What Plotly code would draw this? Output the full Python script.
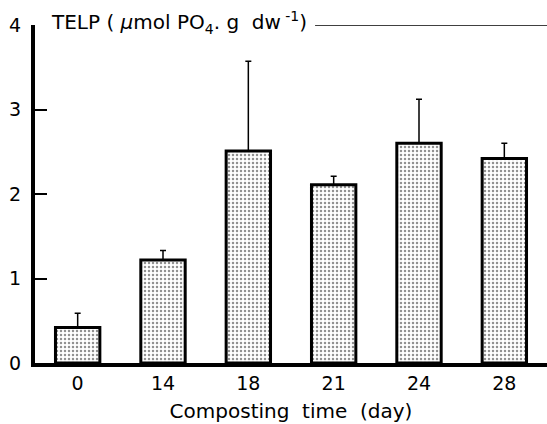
import plotly.graph_objects as go

days = ["0", "14", "18", "21", "24", "28"]
telp = [0.42, 1.22, 2.51, 2.11, 2.60, 2.42]
telp_err = [0.17, 0.11, 1.06, 0.10, 0.52, 0.18]
y_ticks = [0, 1, 2, 3, 4]

FONT = "DejaVu Sans"

fig = go.Figure()
fig.add_trace(go.Bar(
    x=days, y=telp, width=0.52,
    marker=dict(color="white",
                line=dict(color="black", width=3),
                pattern=dict(shape=".", size=4, solidity=0.3,
                             fgcolor="#222", bgcolor="white")),
    error_y=dict(type="data", symmetric=False, array=telp_err,
                 arrayminus=[0] * len(telp_err),
                 color="black", thickness=1.5, width=3),
    showlegend=False,
))

fig.update_layout(
    width=547, height=424,
    margin=dict(l=35, r=0, t=25, b=61),
    plot_bgcolor="white", paper_bgcolor="white",
    font=dict(family=FONT, size=19, color="black"),
    xaxis=dict(type="category", range=[-0.5, 5.5], showline=True,
               linewidth=4, linecolor="black", ticks="", showgrid=False,
               tickfont=dict(size=19),
               title=dict(text="Composting  time  (day)", font=dict(size=20), standoff=12)),
    yaxis=dict(range=[0, 4], tickvals=y_ticks, showline=True, linewidth=4,
               linecolor="black", ticks="inside", ticklen=12, tickwidth=2,
               tickcolor="black", showgrid=False, zeroline=False,
               tickfont=dict(size=19), ticklabelstandoff=6),
)

fig.add_shape(type="line", xref="paper", yref="y", x0=0.547, x1=1, y0=4, y1=4,
              line=dict(color="black", width=1.5))
fig.add_annotation(xref="paper", yref="y", x=0.028, y=4, xanchor="left",
                   yanchor="middle", yshift=3, showarrow=False,
                   text="TELP ( <i>μ</i>mol PO<sub>4</sub>. g  dw<sup> -1</sup>)",
                   font=dict(family=FONT, size=20))

fig.write_html("out.html")
